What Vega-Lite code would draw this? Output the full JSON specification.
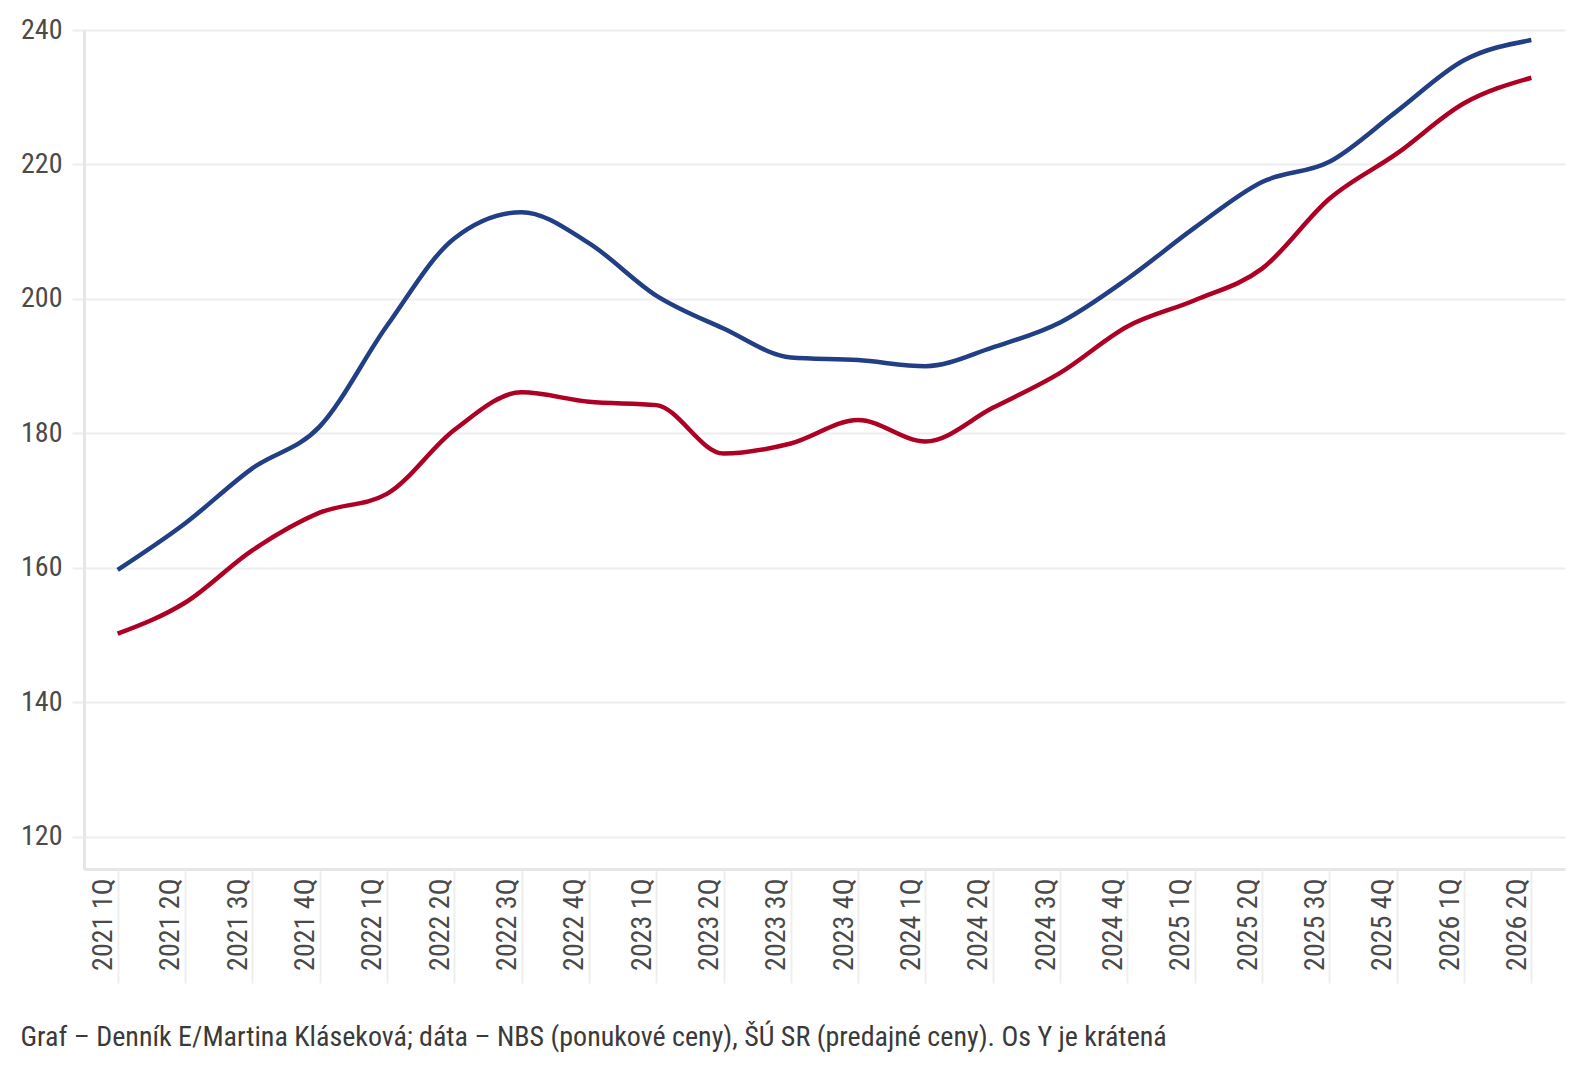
{
  "$schema": "https://vega.github.io/schema/vega-lite/v6.json",
  "width": 1481,
  "height": 839,
  "autosize": {"type": "none"},
  "padding": {"left": 84, "top": 30, "right": 25, "bottom": 211},
  "background": "white",
  "config": {
    "view": {"stroke": null},
    "font": "Roboto Condensed, Liberation Sans Narrow, Roboto"
  },
  "title": {
    "text": "Graf – Denník E/Martina Kláseková; dáta – NBS (ponukové ceny), ŠÚ SR (predajné ceny). Os Y je krátená",
    "orient": "bottom",
    "anchor": "start",
    "frame": "bounds",
    "baseline": "alphabetic",
    "offset": 62,
    "fontSize": 28,
    "fontWeight": "normal",
    "color": "#3a3a3a",
    "font": "Roboto Condensed, Liberation Sans Narrow, Roboto"
  },
  "data": {
    "values": [
      {"q": "2021 1Q", "series": "Ponukové ceny (NBS)", "value": 159.7},
      {"q": "2021 2Q", "series": "Ponukové ceny (NBS)", "value": 166.6},
      {"q": "2021 3Q", "series": "Ponukové ceny (NBS)", "value": 174.8},
      {"q": "2021 4Q", "series": "Ponukové ceny (NBS)", "value": 181.0},
      {"q": "2022 1Q", "series": "Ponukové ceny (NBS)", "value": 196.0},
      {"q": "2022 2Q", "series": "Ponukové ceny (NBS)", "value": 209.0},
      {"q": "2022 3Q", "series": "Ponukové ceny (NBS)", "value": 212.9},
      {"q": "2022 4Q", "series": "Ponukové ceny (NBS)", "value": 208.3},
      {"q": "2023 1Q", "series": "Ponukové ceny (NBS)", "value": 200.5},
      {"q": "2023 2Q", "series": "Ponukové ceny (NBS)", "value": 195.6},
      {"q": "2023 3Q", "series": "Ponukové ceny (NBS)", "value": 191.3},
      {"q": "2023 4Q", "series": "Ponukové ceny (NBS)", "value": 190.9},
      {"q": "2024 1Q", "series": "Ponukové ceny (NBS)", "value": 190.0},
      {"q": "2024 2Q", "series": "Ponukové ceny (NBS)", "value": 192.8},
      {"q": "2024 3Q", "series": "Ponukové ceny (NBS)", "value": 196.5},
      {"q": "2024 4Q", "series": "Ponukové ceny (NBS)", "value": 203.0},
      {"q": "2025 1Q", "series": "Ponukové ceny (NBS)", "value": 210.6},
      {"q": "2025 2Q", "series": "Ponukové ceny (NBS)", "value": 217.4},
      {"q": "2025 3Q", "series": "Ponukové ceny (NBS)", "value": 220.4},
      {"q": "2025 4Q", "series": "Ponukové ceny (NBS)", "value": 227.9},
      {"q": "2026 1Q", "series": "Ponukové ceny (NBS)", "value": 235.5},
      {"q": "2026 2Q", "series": "Ponukové ceny (NBS)", "value": 238.5},
      {"q": "2021 1Q", "series": "Predajné ceny (ŠÚ SR)", "value": 150.2},
      {"q": "2021 2Q", "series": "Predajné ceny (ŠÚ SR)", "value": 154.8},
      {"q": "2021 3Q", "series": "Predajné ceny (ŠÚ SR)", "value": 162.6},
      {"q": "2021 4Q", "series": "Predajné ceny (ŠÚ SR)", "value": 168.2},
      {"q": "2022 1Q", "series": "Predajné ceny (ŠÚ SR)", "value": 171.0},
      {"q": "2022 2Q", "series": "Predajné ceny (ŠÚ SR)", "value": 180.5},
      {"q": "2022 3Q", "series": "Predajné ceny (ŠÚ SR)", "value": 186.1},
      {"q": "2022 4Q", "series": "Predajné ceny (ŠÚ SR)", "value": 184.7},
      {"q": "2023 1Q", "series": "Predajné ceny (ŠÚ SR)", "value": 184.2},
      {"q": "2023 2Q", "series": "Predajné ceny (ŠÚ SR)", "value": 177.0},
      {"q": "2023 3Q", "series": "Predajné ceny (ŠÚ SR)", "value": 178.5},
      {"q": "2023 4Q", "series": "Predajné ceny (ŠÚ SR)", "value": 182.0},
      {"q": "2024 1Q", "series": "Predajné ceny (ŠÚ SR)", "value": 178.8},
      {"q": "2024 2Q", "series": "Predajné ceny (ŠÚ SR)", "value": 183.8},
      {"q": "2024 3Q", "series": "Predajné ceny (ŠÚ SR)", "value": 189.0},
      {"q": "2024 4Q", "series": "Predajné ceny (ŠÚ SR)", "value": 195.9},
      {"q": "2025 1Q", "series": "Predajné ceny (ŠÚ SR)", "value": 199.8},
      {"q": "2025 2Q", "series": "Predajné ceny (ŠÚ SR)", "value": 204.5},
      {"q": "2025 3Q", "series": "Predajné ceny (ŠÚ SR)", "value": 214.9},
      {"q": "2025 4Q", "series": "Predajné ceny (ŠÚ SR)", "value": 221.6},
      {"q": "2026 1Q", "series": "Predajné ceny (ŠÚ SR)", "value": 229.1},
      {"q": "2026 2Q", "series": "Predajné ceny (ŠÚ SR)", "value": 232.9}
    ]
  },
  "mark": {
    "type": "line",
    "interpolate": "monotone",
    "strokeWidth": 4.5,
    "strokeCap": "butt"
  },
  "encoding": {
    "x": {
      "field": "q",
      "type": "nominal",
      "sort": null,
      "title": null,
      "scale": {"type": "point", "padding": 0.5},
      "axis": {
        "grid": false,
        "domainColor": "#e6e6e6",
        "domainWidth": 3,
        "tickColor": "#eeeeee",
        "tickWidth": 2,
        "tickSize": 114,
        "labelAngle": -90,
        "labelAlign": "right",
        "labelBaseline": "bottom",
        "labelPadding": -105,
        "labelFontSize": 28,
        "labelColor": "#4a4a4a"
      }
    },
    "y": {
      "field": "value",
      "type": "quantitative",
      "title": null,
      "scale": {"domain": [115.2, 240], "nice": false, "zero": false},
      "axis": {
        "values": [120, 140, 160, 180, 200, 220, 240],
        "grid": true,
        "gridColor": "#ededed",
        "gridWidth": 2,
        "domainColor": "#e6e6e6",
        "domainWidth": 3,
        "tickColor": "#ededed",
        "tickWidth": 2,
        "tickSize": 12,
        "labelPadding": 10,
        "labelFontSize": 28,
        "labelColor": "#4a4a4a"
      }
    },
    "color": {
      "field": "series",
      "type": "nominal",
      "scale": {
        "domain": ["Ponukové ceny (NBS)", "Predajné ceny (ŠÚ SR)"],
        "range": ["#223f85", "#ad0024"]
      },
      "legend": null
    }
  }
}
